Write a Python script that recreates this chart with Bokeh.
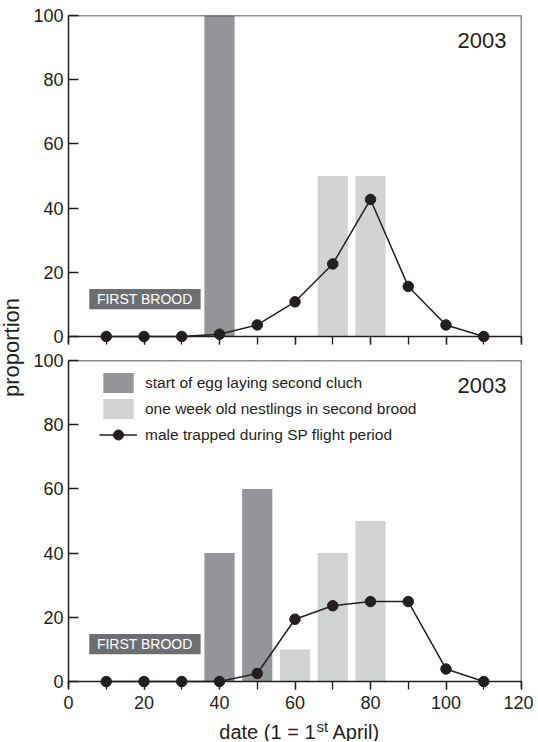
import math
from bokeh.plotting import figure
from bokeh.layouts import row, column
from bokeh.models import (Span, Label, Legend, LegendItem, SingleIntervalTicker,
                          FixedTicker)
from bokeh.core.properties import value
from bokeh.embed import file_html
from bokeh.resources import INLINE

# ---------------- data ----------------
days = [10, 20, 30, 40, 50, 60, 70, 80, 90, 100, 110]

# upper panel (2003, first brood)
top_egg_days = [40]
top_egg = [100]
top_nest_days = [70, 80]
top_nest = [50, 50]
top_male = [0, 0, 0, 0.7, 3.6, 10.8, 22.6, 42.7, 15.6, 3.6, 0]

# lower panel (2003)
bot_egg_days = [40, 50]
bot_egg = [40, 60]
bot_nest_days = [60, 70, 80]
bot_nest = [10, 40, 50]
bot_male = [0, 0, 0, 0, 2.5, 19.4, 23.6, 24.9, 24.9, 3.9, 0]

y_ticks = [0, 20, 40, 60, 80, 100]
year_label = "2003"
legend_labels = ["start of egg laying second cluch",
                 "one week old nestlings in second brood",
                 "male trapped during SP flight period"]

# ---------------- styles ----------------
FONT = "Liberation Sans"
INK = "#231f20"
DARK = "#939598"
LIGHT = "#d1d3d4"
BOX = "#6d6e71"
FW, FH = 454, 327
YPAD = 1.87
BL, BR = 37, 12
LABW = 30


def make_panel(egg_days, egg, nest_days, nest, male, show_labels, mb_top, mb_bottom):
    p = figure(width=BL + FW + BR, height=mb_top + FH + mb_bottom,
               x_range=(0, 120), y_range=(-YPAD, 100),
               output_backend="svg", toolbar_location=None,
               min_border_left=BL, min_border_right=BR,
               min_border_top=mb_top, min_border_bottom=mb_bottom)
    p.outline_line_color = None
    p.grid.visible = False
    p.background_fill_color = "white"

    egg_r = p.vbar(x=egg_days, top=egg, bottom=0, width=8, fill_color=DARK, line_color=None)
    nest_r = p.vbar(x=nest_days, top=nest, bottom=0, width=8, fill_color=LIGHT, line_color=None)
    line_r = p.line(days, male, line_color=INK, line_width=1.5)
    pts_r = p.scatter(days, male, size=10.5, fill_color=INK, line_color=INK, marker="circle")

    # frame borders
    p.add_layout(Span(location=0, dimension="width", line_color=INK, line_width=1.5))
    p.add_layout(Span(location=100, dimension="width", line_color=INK, line_width=1.5))
    p.add_layout(Span(location=120, dimension="height", line_color=INK, line_width=1.5))

    # FIRST BROOD tag
    p.quad(left=[5.5], right=[35], bottom=[8.5], top=[14.8], fill_color=BOX, line_color=None)
    p.text(x=[20.2], y=[11.6], text=["FIRST BROOD"], text_color="white",
           text_font=value(FONT), text_font_size="14px", text_align="center",
           text_baseline="middle")

    p.add_layout(Label(x=FW - 16, y=FH - 25, x_units="screen", y_units="screen",
                       text=year_label, text_font=FONT, text_font_size="22px",
                       text_color=INK, text_align="right", text_baseline="alphabetic"))

    xa = p.xaxis[0]
    xa.ticker = SingleIntervalTicker(interval=20, num_minor_ticks=2)
    xa.axis_line_color = None
    xa.major_tick_in = 6
    xa.major_tick_out = 2
    xa.minor_tick_in = 6
    xa.minor_tick_out = 2
    xa.major_tick_line_color = INK
    xa.minor_tick_line_color = INK
    xa.major_tick_line_width = 1.3
    xa.minor_tick_line_width = 1.3
    xa.major_label_text_font = FONT
    xa.major_label_text_font_size = "18px"
    xa.major_label_text_color = INK
    xa.major_label_standoff = 6
    if not show_labels:
        xa.major_label_overrides = {t: "" for t in range(0, 121, 20)}

    ya = p.yaxis[0]
    ya.ticker = FixedTicker(ticks=y_ticks)
    ya.axis_line_color = INK
    ya.axis_line_width = 1.5
    ya.major_tick_in = 10
    ya.major_tick_out = 0
    ya.minor_tick_line_color = None
    ya.major_tick_line_color = INK
    ya.major_tick_line_width = 1.3
    ya.major_label_text_font = FONT
    ya.major_label_text_font_size = "18px"
    ya.major_label_text_color = INK
    ya.major_label_standoff = 5
    return p, egg_r, nest_r, line_r, pts_r


top, *_ = make_panel(top_egg_days, top_egg, top_nest_days, top_nest, top_male,
                     False, 15, 10)
bot, egg_r, nest_r, line_r, pts_r = make_panel(bot_egg_days, bot_egg, bot_nest_days,
                                               bot_nest, bot_male, True, 8, 32)

legend = Legend(items=[LegendItem(label=legend_labels[0], renderers=[egg_r]),
                       LegendItem(label=legend_labels[1], renderers=[nest_r]),
                       LegendItem(label=legend_labels[2], renderers=[line_r, pts_r])],
                location=(31, 240), orientation="vertical",
                glyph_width=38, glyph_height=25, label_height=25,
                spacing=1, padding=0, margin=0, label_standoff=8,
                label_text_font=FONT, label_text_font_size="15.5px",
                label_text_color=INK, border_line_color=None,
                background_fill_alpha=0)
bot.add_layout(legend, "center")


def blank_fig(w, h):
    f = figure(width=w, height=h, x_range=(0, 1), y_range=(0, 1),
               output_backend="svg", toolbar_location=None, min_border=0)
    f.outline_line_color = None
    f.axis.visible = False
    f.grid.visible = False
    return f


# x axis title (with superscript) in its own strip below the lower panel
xl = blank_fig(BL + FW + BR, 22)
X1 = 247
XB = 10
xl.add_layout(Label(x=X1, y=XB, x_units="screen", y_units="screen", text="date (1 = 1",
                    text_font=FONT, text_font_size="20px", text_color=INK,
                    text_align="right", text_baseline="alphabetic"))
xl.add_layout(Label(x=X1 + 1, y=XB + 5.5, x_units="screen", y_units="screen", text="st",
                    text_font=FONT, text_font_size="15px", text_color=INK,
                    text_align="left", text_baseline="alphabetic"))
xl.add_layout(Label(x=X1 + 17, y=XB, x_units="screen", y_units="screen", text="April)",
                    text_font=FONT, text_font_size="20px", text_color=INK,
                    text_align="left", text_baseline="alphabetic"))

# shared y axis title
LH = 352 + 367 + 22
lab = blank_fig(LABW, LH)
lab.add_layout(Label(x=11, y=LH - 347, x_units="screen", y_units="screen",
                     text="proportion", angle=math.pi / 2, text_font=FONT,
                     text_font_size="22px", text_color=INK, text_align="center",
                     text_baseline="alphabetic"))

layout = row(lab, column(top, bot, xl, spacing=0), spacing=0)
open("out.html", "w").write(file_html(layout, INLINE))
